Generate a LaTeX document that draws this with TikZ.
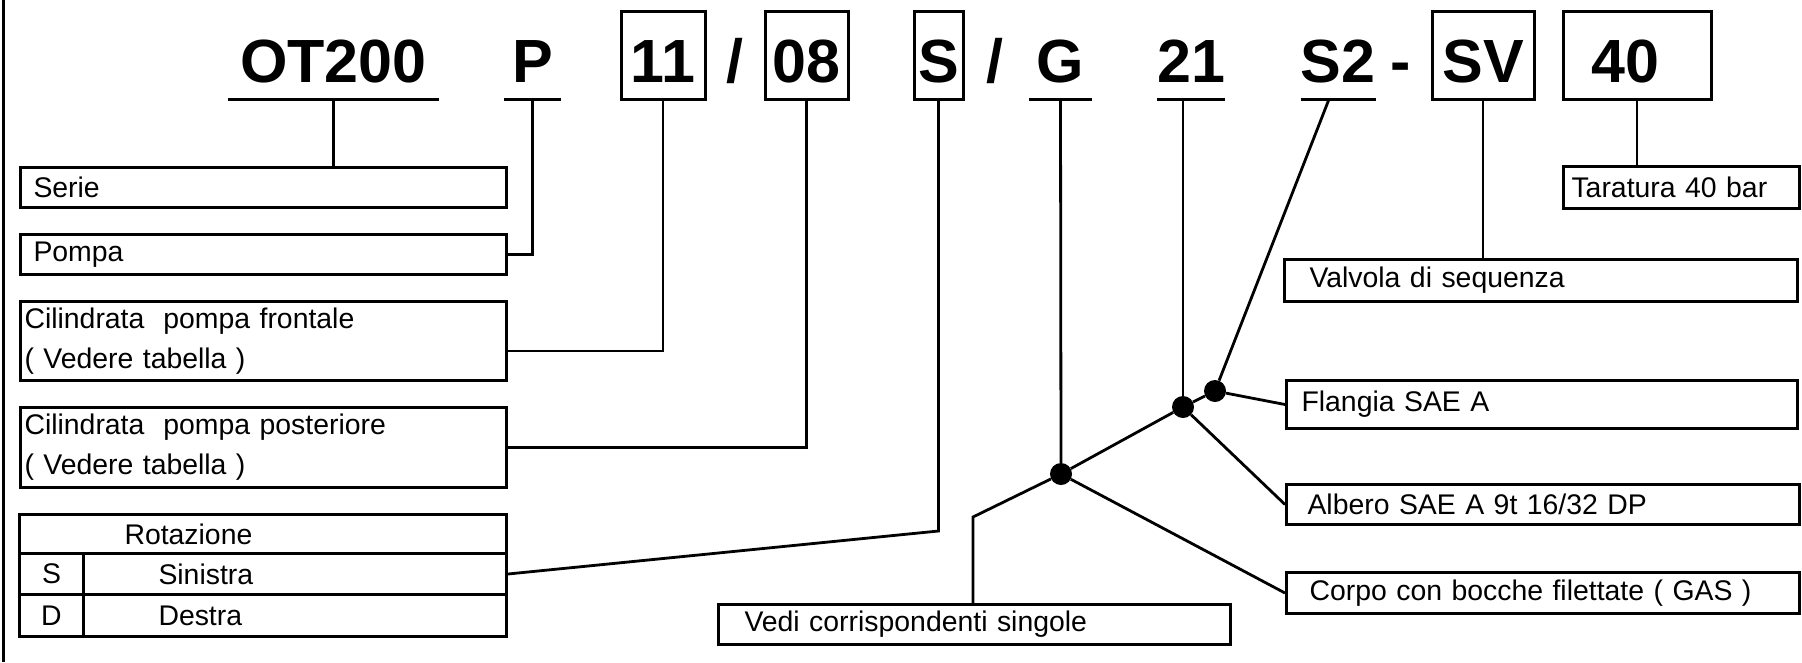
\documentclass[tikz,border=0pt]{standalone}
\usepackage{fontspec}
\setmainfont{Liberation Sans}
\usepackage{tikz}
\usetikzlibrary{calc}
\newcommand{\lblfont}{\fontsize{28.4}{40}\selectfont}
\newcommand{\codefont}{\fontsize{61}{70}\selectfont\bfseries}

\begin{document}
\begin{tikzpicture}[
  x=1pt, y=-1pt,
  every node/.style={font=\lblfont},
  code/.style={rectangle, inner sep=0pt, minimum height=88pt,
    text height=54pt, text depth=0pt, font=\codefont},
  codebox/.style={code, draw, line width=3pt},
  lbl/.style={rectangle, draw, line width=3pt, anchor=north west,
    align=left, inner ysep=0pt, minimum height=40pt},
  cell/.style={rectangle, draw, line width=3pt, anchor=north west,
    inner sep=0pt, minimum width=64pt},
  conn/.style={line width=2.8pt},
  uline/.style={line width=3pt},
  dot/.style={circle, fill, inner sep=0pt, minimum size=22pt}
]
  \useasboundingbox (0,0) rectangle (1802,662);
  \draw[conn] (3.5,0) -- (3.5,662);

  % code line
  \node[code, minimum width=211pt] (ot) at (333.5,55) {OT200};
  \node[code, minimum width=57pt] (p) at (532.5,55) {P};
  \node[codebox, minimum width=84pt] (c11) at (663,55) {11};
  \node[code] (sl1) at (735,55) {/};
  \node[codebox, minimum width=83pt] (c08) at (806.5,55) {08};
  \node[codebox, minimum width=49pt] (cS) at (938.5,55) {S};
  \node[code] (sl2) at (995,55) {/};
  \node[code, minimum width=63pt] (cG) at (1060.5,55) {G};
  \node[code, minimum width=68pt] (c21) at (1191,55) {21};
  \node[code, minimum width=68pt] (cS2) at (1338,55) {S2};
  \node[code] (dash) at (1401,55) {-};
  \node[codebox, minimum width=102pt] (cSV) at (1483,55) {SV};
  \node[codebox, minimum width=148pt] (c40) at (1637,55) {\hspace*{-24pt}40};

  \foreach \u in {ot,p,cG,c21,cS2} {
    \draw[uline] (\u.south west) -- (\u.south east);
  }

  % left column
  \node[lbl, inner xsep=13pt, text width=460pt] (serie) at (19,166) {Serie};
  \node[lbl, inner xsep=13pt, text width=460pt] (pompa) at (19,233) {Pompa};
  \node[lbl, inner xsep=4pt, text width=478pt, minimum height=79pt] (cilf) at (19,300)
    {Cilindrata\ \ pompa frontale\\( Vedere tabella )};
  \node[lbl, inner xsep=4pt, text width=478pt, minimum height=80pt] (cilp) at (19,406)
    {Cilindrata\ \ pompa posteriore\\( Vedere tabella )};
  \node[lbl, inner xsep=105pt, text width=277pt, minimum height=39pt] (rot) at (18,513) {Rotazione};
  \node[cell, minimum height=41pt] (rs) at (18,552) {S};
  \node[lbl, inner xsep=75pt, text width=273pt, minimum height=41pt] (rsin) at (82,552) {Sinistra};
  \node[cell, minimum height=42pt] (rd) at (18,593) {D};
  \node[lbl, inner xsep=75pt, text width=273pt, minimum height=42pt] (rdes) at (82,593) {Destra};

  % right column
  \node[lbl, inner xsep=8pt, text width=220pt, minimum height=42pt] (tar) at (1562,165) {Taratura 40 bar};
  \node[lbl, inner xsep=25pt, text width=463pt, minimum height=42pt] (valv) at (1283,258) {Valvola di sequenza};
  \node[lbl, inner xsep=15pt, text width=481pt, minimum height=48pt] (flan) at (1285,379) {Flangia SAE A};
  \node[lbl, inner xsep=21pt, text width=471pt] (alb) at (1285,483) {Albero SAE A 9t 16/32 DP};
  \node[lbl, inner xsep=23pt, text width=467pt, minimum height=41pt] (corpo) at (1285,571) {Corpo con bocche filettate ( GAS )};
  \node[lbl, inner xsep=26pt, text width=460pt] (vedi) at (717,603) {Vedi corrispondenti singole};

  % junctions
  \node[dot] (dG) at (1061,474) {};
  \node[dot] (d21) at (1183,407) {};
  \node[dot] (dS2) at (1215,391) {};
  \coordinate (sbend) at (938.5,531);
  \coordinate (vbend) at (973,517);

  \draw[conn] (ot.south) -- (ot.south |- serie.north);
  \draw[conn] (p.south) |- (pompa.east);
  \draw[conn] (c11.south) |- ([yshift=-10pt]cilf.east);
  \draw[conn] (c08.south) |- (cilp.east);
  \draw[conn] (cS.south) -- (sbend) -- (rsin.east);
  \draw[conn] (cG.south) -- (dG);
  \draw[conn] (dG) -- (d21);
  \draw[conn] (dG) -- (vbend) -- (vbend |- vedi.north);
  \draw[conn] (dG) -- (corpo.west);
  \draw[conn] (c21.south -| d21) -- (d21);
  \draw[conn] (d21) -- (alb.west);
  \draw[conn] (d21) -- (dS2);
  \draw[conn] ([xshift=-9pt]cS2.south) -- (dS2);
  \draw[conn] (dS2) -- (flan.west);
  \draw[conn] (cSV.south) -- (cSV.south |- valv.north);
  \draw[conn] (c40.south) -- (c40.south |- tar.north);
\end{tikzpicture}
\end{document}
